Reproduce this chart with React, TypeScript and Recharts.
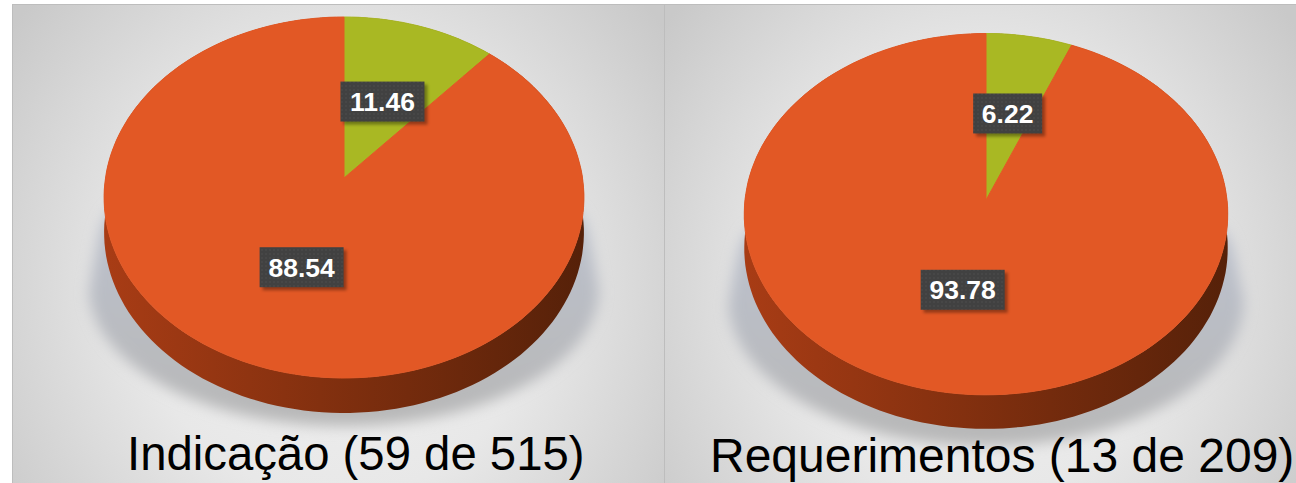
import React from "react";
import { PieChart, Pie, Cell } from "recharts";

// share of proposals, in %
const categories = ["Aprovadas", "Demais"];
const indicacaoValues = [11.46, 88.54];
const requerimentoValues = [6.22, 93.78];
const titles = ["Indicação (59 de 515)", "Requerimentos (13 de 209)"];
const sliceColors = ["#a9b823", "#e25825"];

const FONT = "'Liberation Sans', Arial, sans-serif";

interface Geo {
  id: string;
  left: number;
  width: number;
  cx: number;
  cy: number;
  radius: number;
  persp: number; // perspective of the tilted disc
  squash: number;
  depth: number;
  labelDy: number[];
  shadowCy: number; // floor shadow, relative to cy
  shadowH: number;
  titleX: number;
  titleY: number;
  titleSize: number;
}

const leftGeo: Geo = {
  id: "a", left: 12, width: 652, cx: 332, cy: 174, radius: 238.5, persp: 0.108, squash: 0.748,
  depth: 35, labelDy: [0, 5], shadowCy: 110, shadowH: 138, titleX: 115, titleY: 423, titleSize: 47.3,
};
const rightGeo: Geo = {
  id: "b", left: 664, width: 632, cx: 322, cy: 196, radius: 241, persp: 0.0784, squash: 0.745,
  depth: 34, labelDy: [-5, 2], shadowCy: 100, shadowH: 146, titleX: 46, titleY: 425, titleSize: 48,
};

// point on the tilted disc, angle in recharts degrees, r as fraction of radius
function project(g: Geo, cx: number, cy: number, deg: number, r = 1) {
  const a = (deg * Math.PI) / 180;
  const u = r * Math.cos(a);
  const v = r * Math.sin(a);
  const d = 1 + g.persp * v;
  return { x: cx + (g.radius * u) / d, y: cy - (g.radius * g.squash * v) / d };
}

function arcAngles(start: number, end: number) {
  const n = Math.max(2, Math.ceil(Math.abs(end - start) / 2));
  const out = [];
  for (let i = 0; i <= n; i++) out.push(start + ((end - start) * i) / n);
  return out;
}

const toPath = (pts: { x: number; y: number }[]) =>
  pts.map((p, i) => `${i ? "L" : "M"}${p.x.toFixed(1)},${p.y.toFixed(1)}`).join(" ");

function TopSlice(g: Geo) {
  return (props: any) => {
    const { cx, cy, startAngle, endAngle, fill } = props;
    const pts = arcAngles(startAngle, endAngle).map((a) => project(g, cx, cy, a));
    const d = `M${cx},${cy} ${toPath(pts).replace("M", "L")} Z`;
    return <path d={d} fill={fill} stroke={fill} strokeWidth={1} />;
  };
}

function SideSlice(g: Geo) {
  return (props: any) => {
    const { cx, cy, startAngle, endAngle } = props;
    const pts = arcAngles(startAngle, endAngle).map((a) => project(g, cx, cy, a));
    const low = pts.map((p) => ({ x: p.x, y: p.y + g.depth })).reverse();
    return <path d={`${toPath(pts)} ${toPath(low).replace("M", "L")} Z`} fill={`url(#side-${g.id})`} />;
  };
}

// squarish on top, round below, sits under the pie
function ShadowSlice(g: Geo) {
  return (props: any) => {
    const { cx, cy, startAngle, endAngle } = props;
    const yc = cy + g.shadowCy;
    const rx = g.radius * 1.07;
    const pts = arcAngles(startAngle, endAngle).map((deg) => {
      const a = (deg * Math.PI) / 180;
      const c = Math.cos(a);
      const s = Math.sin(a);
      if (s < 0) return { x: cx + rx * c, y: yc - g.shadowH * s };
      const v = Math.pow(s, 0.25);
      return {
        x: cx + rx * Math.sign(c) * Math.pow(Math.abs(c), 0.25) * (1 - 0.07 * v),
        y: yc - g.shadowCy * 0.85 * v,
      };
    });
    const d = `M${cx},${yc} ${toPath(pts).replace("M", "L")} Z`;
    return (
      <g clipPath={`url(#shadowClip-${g.id})`}>
        <path d={d} fill={`url(#shadowFill-${g.id})`} filter={`url(#blur-${g.id})`} />
      </g>
    );
  };
}

function SliceLabel(g: Geo) {
  return (props: any) => {
    const { cx, cy, midAngle, value, index } = props;
    const p = project(g, cx, cy, midAngle, 0.48);
    const text = Number(value).toFixed(2);
    const w = text.length === 5 ? 84 : 69;
    const y = p.y + g.labelDy[index];
    return (
      <g>
        <rect x={p.x - w / 2 + 3} y={y - 20 + 3} width={w} height={40} fill="#000" opacity={0.35} filter={`url(#soft-${g.id})`} />
        <rect x={p.x - w / 2} y={y - 20} width={w} height={40} fill={`url(#dots-${g.id})`} />
        <text
          x={p.x}
          y={y + 9.5}
          textAnchor="middle"
          fill="#fff"
          fontFamily={FONT}
          fontWeight={700}
          fontSize={26.5}
        >
          {text}
        </text>
      </g>
    );
  };
}

function PiePanel({ geo, values, title }: { geo: Geo; values: number[]; title: string }) {
  const data = categories.map((name, i) => ({ name, value: values[i] }));
  const common = {
    data,
    dataKey: "value",
    nameKey: "name",
    cx: geo.cx,
    cy: geo.cy,
    outerRadius: geo.radius,
    startAngle: 90,
    endAngle: -270,
    isAnimationActive: false,
    labelLine: false,
    stroke: "none",
  };
  return (
    <div
      style={{
        position: "absolute",
        left: geo.left,
        top: 4,
        width: geo.width,
        height: 479,
        overflow: "hidden",
        background: "radial-gradient(ellipse 62% 90% at 50% 58%, #f1f1f1 0%, #e8e8e8 50%, #c9c9c9 100%)",
        boxShadow: "inset 1px 1px 0 #bdbdbd",
      }}
    >
      <PieChart width={geo.width} height={479} margin={{ top: 0, right: 0, bottom: 0, left: 0 }}>
        <defs>
          <linearGradient id={`side-${geo.id}`} gradientUnits="userSpaceOnUse" x1={geo.cx - geo.radius} y1={0} x2={geo.cx + geo.radius} y2={0}>
            <stop offset="0%" stopColor="#a83c15" />
            <stop offset="45%" stopColor="#83300f" />
            <stop offset="100%" stopColor="#562109" />
          </linearGradient>
          <linearGradient id={`shadowFill-${geo.id}`} gradientUnits="userSpaceOnUse" x1={0} y1={geo.cy} x2={0} y2={geo.cy + 240}>
            <stop offset="0%" stopColor="#bcc2d0" />
            <stop offset="100%" stopColor="#b8b8b8" />
          </linearGradient>
          <filter id={`blur-${geo.id}`} x="-10%" y="-10%" width="120%" height="120%">
            <feGaussianBlur stdDeviation={7} />
          </filter>
          <filter id={`soft-${geo.id}`} x="-10%" y="-20%" width="120%" height="140%">
            <feGaussianBlur stdDeviation={1.5} />
          </filter>
          <clipPath id={`shadowClip-${geo.id}`}>
            <rect x={0} y={geo.cy + 16} width={geo.width} height={300} />
          </clipPath>
          <pattern id={`dots-${geo.id}`} width={4} height={4} patternUnits="userSpaceOnUse">
            <rect width={4} height={4} fill="#414141" />
            <circle cx={2} cy={2} r={0.8} fill="#4e4e4e" />
          </pattern>
        </defs>
        <Pie {...common} shape={ShadowSlice(geo)} />
        <Pie {...common} shape={SideSlice(geo)} />
        <Pie {...common} shape={TopSlice(geo)} label={SliceLabel(geo)}>
          {data.map((d, i) => (
            <Cell key={d.name} fill={sliceColors[i]} />
          ))}
        </Pie>
      </PieChart>
      <div
        style={{
          position: "absolute",
          left: geo.titleX,
          top: geo.titleY,
          fontFamily: FONT,
          fontSize: geo.titleSize,
          lineHeight: "54px",
          whiteSpace: "nowrap",
          color: "#000",
        }}
      >
        {title}
      </div>
    </div>
  );
}

export default function App() {
  return (
    <div style={{ position: "relative", width: 1296, height: 483, overflow: "hidden", background: "#fff" }}>
      <style>{`body{margin:0}`}</style>
      <PiePanel geo={leftGeo} values={indicacaoValues} title={titles[0]} />
      <PiePanel geo={rightGeo} values={requerimentoValues} title={titles[1]} />
    </div>
  );
}
